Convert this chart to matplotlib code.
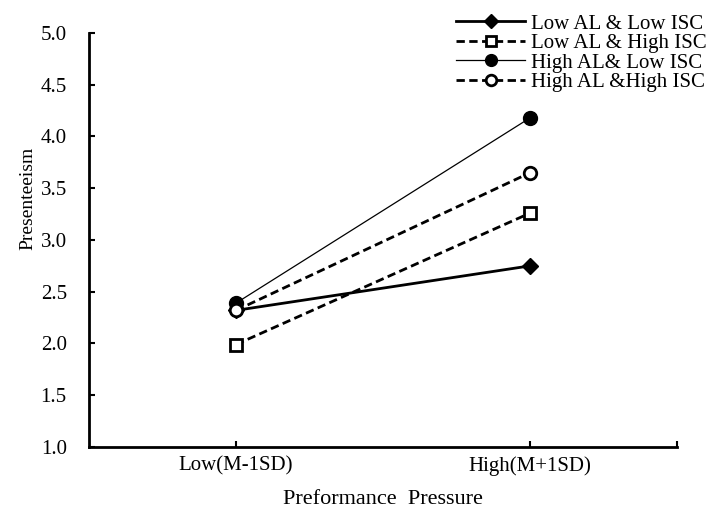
import matplotlib
matplotlib.use("Agg")
import matplotlib.pyplot as plt

plt.rcParams['font.family'] = ['Liberation Serif', 'DejaVu Serif']

levels = ["Low(M-1SD)", "High(M+1SD)"]
low_al_low_isc = [2.32, 2.75]
low_al_high_isc = [1.99, 3.26]
high_al_low_isc = [2.39, 4.18]
high_al_high_isc = [2.32, 3.65]
yticks = [1.0, 1.5, 2.0, 2.5, 3.0, 3.5, 4.0, 4.5, 5.0]

fig = plt.figure(figsize=(7.09, 5.14), dpi=100)
ax = fig.add_axes([0.1255, 0.1304, 0.8295, 0.8054])

x = [0, 1]
dash = (0, (3, 1.6))
ax.plot(x, low_al_low_isc, color="black", lw=2, marker="D", ms=8,
        label="Low AL & Low ISC")
ax.plot(x, low_al_high_isc, color="black", lw=2, ls=dash, marker="s", ms=9,
        mfc="white", mew=2, label="Low AL & High ISC")
ax.plot(x, high_al_low_isc, color="black", lw=0.9, marker="o", ms=10,
        label="High AL& Low ISC")
ax.plot(x, high_al_high_isc, color="black", lw=2, ls=dash, marker="o", ms=9,
        mfc="white", mew=2, label="High AL &High ISC")

ax.set_xlim(-0.5, 1.5)
ax.set_ylim(1.0, 5.0)
ax.set_xticks(x)
ax.set_xticklabels(levels)
ax.set_xticks([1.5], minor=True)
ax.set_yticks(yticks)
ax.set_yticklabels([f"{v:.1f}" for v in yticks])
ax.tick_params(direction="in", length=4, width=1.5, labelsize=15)
ax.tick_params(axis="x", pad=7)
ax.tick_params(axis="x", which="minor", direction="in", length=4, width=1.5)
ax.tick_params(axis="y", pad=16)

for s in ["top", "right"]:
    ax.spines[s].set_visible(False)
for s in ["left", "bottom"]:
    ax.spines[s].set_linewidth(2)

ax.set_xlabel("Preformance  Pressure", fontsize=16, labelpad=10)
ax.set_ylabel("Presenteeism", fontsize=14, labelpad=4)
ax.yaxis.set_label_coords(-0.09, 0.60)

fig.legend(loc="upper right", bbox_to_anchor=(707 / 709, 1 - 14 / 514), frameon=False,
           fontsize=15, handlelength=3.3, handletextpad=0.3, labelspacing=0.0,
           borderpad=0, borderaxespad=0, markerscale=0.85)

fig.savefig("out.png", dpi=100)
